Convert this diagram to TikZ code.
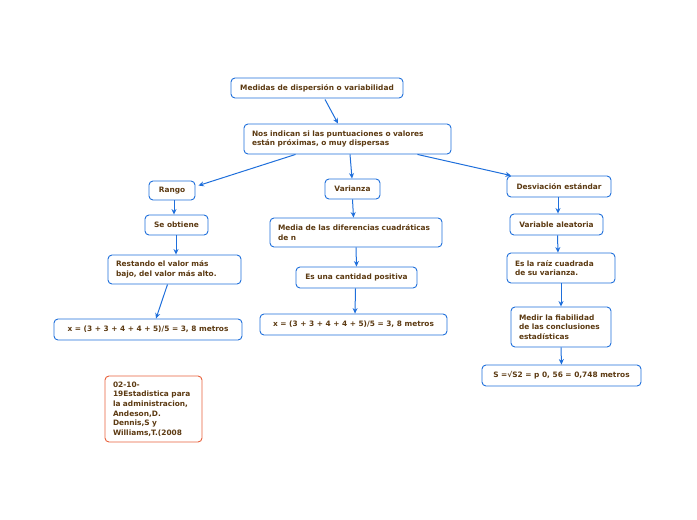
\documentclass[tikz,border=0pt]{standalone}
\usepackage{fontspec}
\setmainfont{DejaVu Sans}
\usetikzlibrary{arrows.meta}
\definecolor{bblue}{HTML}{1F6FDB}
\definecolor{tbrown}{HTML}{5C3A12}
\definecolor{nred}{HTML}{E8613C}
\tikzset{
  box/.style={draw=bblue, line width=0.9pt, rounded corners=4pt, fill=white,
    text=tbrown, font=\fontsize{7.4}{9.6}\selectfont\bfseries, inner ysep=2pt, inner xsep=8pt},
  lbox/.style={box, align=left},
  cbox/.style={box, align=center},
  conn/.style={draw=bblue, line width=1pt, -{Stealth[length=5.5pt,width=5pt]}}
}
\begin{document}
\begin{tikzpicture}[x=1pt,y=-1pt]
\useasboundingbox (0,0) rectangle (697,520);
\node[cbox, minimum width=172pt, minimum height=20pt] (med) at (317,88) {Medidas de dispersión o variabilidad};
\node[lbox, text width=191pt, minimum height=30pt] (nos) at (347.5,139) {Nos indican si las puntuaciones o valores\\están próximas, o muy dispersas};
\node[cbox, minimum width=46pt, minimum height=19pt] (ran) at (172,190.5) {Rango};
\node[cbox, minimum width=55pt, minimum height=20pt] (var) at (352.5,189) {Varianza};
\node[cbox, minimum width=104pt, minimum height=21pt] (des) at (559,186.5) {Desviación estándar};
\node[cbox, minimum width=63pt, minimum height=20pt] (seo) at (176.5,225) {Se obtiene};
\node[lbox, text width=117pt, minimum height=29pt] (res) at (174.5,269.5) {Restando el valor más\\bajo, del valor más alto.};
\node[cbox, minimum width=188pt, minimum height=21pt] (x1) at (148,329.5) {x = (3 + 3 + 4 + 4 + 5)/5 = 3, 8 metros};
\node[lbox, text width=156pt, minimum height=29pt] (mdc) at (356,232.5) {Media de las diferencias cuadráticas\\de n};
\node[cbox, minimum width=121pt, minimum height=21pt] (cp) at (356.5,277.5) {Es una cantidad positiva};
\node[cbox, minimum width=187pt, minimum height=21pt] (x2) at (353.5,324.5) {x = (3 + 3 + 4 + 4 + 5)/5 = 3, 8 metros};
\node[cbox, minimum width=93pt, minimum height=21pt] (va) at (556.5,224.5) {Variable aleatoria};
\node[lbox, text width=92pt, minimum height=30pt] (rc) at (561,268) {Es la raíz cuadrada\\de su varianza.};
\node[lbox, text width=84pt, minimum height=40pt] (mf) at (561,327) {Medir la fiabilidad\\de las conclusiones\\estadísticas};
\node[cbox, minimum width=159pt, minimum height=21pt] (s) at (561.5,375.5) {S =√S2 = p 0, 56 = 0,748 metros};
\node[lbox, draw=nred, text width=81pt, minimum height=66pt] (note) at (153.5,409) {02-10-\\19Estadistica para\\la administracion,\\Andeson,D.\\Dennis,S y\\Williams,T.(2008};
\draw[conn] (med.south)++(8,1) -- ([xshift=-9.5pt]nos.north);
\draw[conn] ([xshift=-52pt]nos.south) -- ([xshift=3pt,yshift=-5pt]ran.north east);
\draw[conn] ([xshift=2.5pt]nos.south) -- ([xshift=-0.5pt]var.north);
\draw[conn] ([xshift=70pt]nos.south) -- ([xshift=-48pt]des.north);
\draw[conn] (ran.south) ++(2,0) -- ([xshift=-2.5pt]seo.north);
\draw[conn] ([xshift=-0.5pt]seo.south) -- ([xshift=1.5pt]res.north);
\draw[conn] ([xshift=-7pt]res.south) -- ([xshift=8pt]x1.north);
\draw[conn] (var.south) -- ([xshift=-2.5pt]mdc.north);
\draw[conn] (mdc.south) -- (cp.north);
\draw[conn] ([xshift=-1pt]cp.south) -- ([xshift=1.5pt]x2.north);
\draw[conn] ([xshift=-1pt]des.south) -- ([xshift=1.5pt]va.north);
\draw[conn] ([xshift=1pt]va.south) -- ([xshift=-3pt]rc.north);
\draw[conn] (rc.south) -- (mf.north);
\draw[conn] (mf.south) -- (s.north);
\end{tikzpicture}
\end{document}
